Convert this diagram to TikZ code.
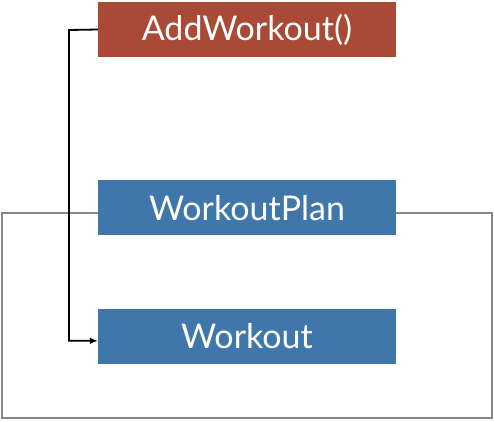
\documentclass[tikz,border=0pt]{standalone}
\usepackage{fontspec}
\setmainfont{Lato}
\usepackage{xcolor}
\usetikzlibrary{positioning,arrows.meta}

\definecolor{methodred}{RGB}{168,74,54}
\definecolor{classblue}{RGB}{63,119,170}
\definecolor{framegray}{RGB}{135,135,138}

\begin{document}
\begin{tikzpicture}[x=1pt,y=-1pt]
    \tikzstyle{box}=[rectangle, minimum width=298pt, minimum height=55pt, inner sep=0pt,
        text=white, font=\fontsize{34}{36}\selectfont]
    \tikzstyle{method}=[box, fill=methodred]
    \tikzstyle{klass}=[box, fill=classblue]
    \tikzstyle{call}=[draw=black, line width=1.8pt, -{Latex[length=8pt,width=7pt]}]
    \tikzstyle{frame}=[draw=framegray, line width=1.6pt]

    \useasboundingbox (0,0) rectangle (494,421);

    % Boxes
    \node[method] (AddWorkout) at (247,29.5) {AddWorkout()};
    \node[klass, below=123pt of AddWorkout] (WorkoutPlan) {WorkoutPlan};
    \node[klass, below=73pt of WorkoutPlan] (Workout) {Workout};

    % Frame around the plan
    \coordinate (FL) at (2,213);
    \coordinate (FB) at (2,418);
    \coordinate (FR) at (492,418);
    \coordinate (FT) at (492,213);
    \draw[frame] (WorkoutPlan.west |- FL) -- (FL) -- (FB) -- (FR) -- (FT) -- (WorkoutPlan.east |- FT);

    % Call
    \coordinate (bend) at (69,30);
    \draw[call] (AddWorkout.west) -- (bend) |- ([yshift=-4.5pt]Workout.west);
\end{tikzpicture}
\end{document}
